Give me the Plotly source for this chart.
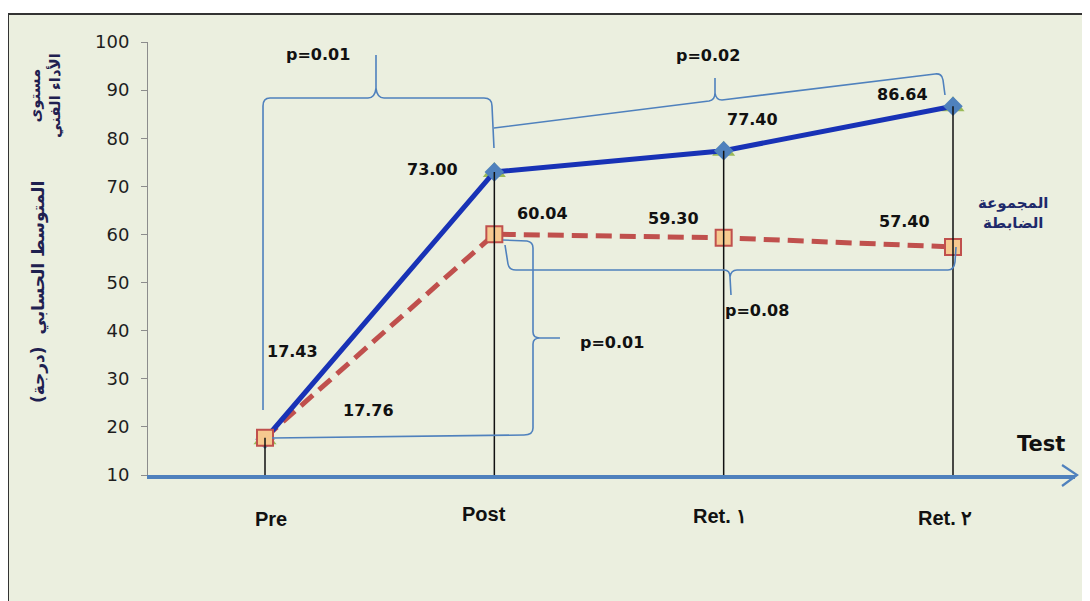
import plotly.graph_objects as go

# ---------------- data ----------------
categories = ["Pre", "Post", "Ret. ١", "Ret. ٢"]
experimental = [17.43, 73.00, 77.40, 86.64]
control = [17.76, 60.04, 59.30, 57.40]
y_ticks = [10, 20, 30, 40, 50, 60, 70, 80, 90, 100]
p_labels = ["p=0.01", "p=0.02", "p=0.08", "p=0.01"]
y_title_top = "مستوى<br>الأداء الفني"
y_title_main = "\u200fالمتوسط الحسابي  (درجة)\u200f"
control_name = "المجموعة<br>الضابطة"
x_title = "Test"

# ---------------- geometry helpers (screen pixels) ----------------
SCREEN_W, SCREEN_H = 1090, 601
OFF = 8  # page body margin
L, R, T, B = 148, 1075, 42, 475
XMIN, XMAX = -0.5102, 3.532
YMIN, YMAX = 10, 100


def dx(px):
    return XMIN + (px - L) / (R - L) * (XMAX - XMIN)


def dy(py):
    return YMIN + (B - py) / (B - T) * (YMAX - YMIN)


def px_(px):
    return (px - L) / (R - L)


def py_(py):
    return (B - py) / (B - T)


def path(cmds, conv_x=dx, conv_y=dy):
    out = []
    for c in cmds:
        op, nums = c[0], c[1:]
        pts = []
        for i in range(0, len(nums), 2):
            pts.append(f"{conv_x(nums[i]):.4f},{conv_y(nums[i + 1]):.4f}")
        out.append(op + " " + " ".join(pts))
    return " ".join(out)


BRACE = "#4F81BD"
fig = go.Figure()

xs = list(range(len(categories)))

# green triangles behind diamonds
fig.add_trace(go.Scatter(x=xs, y=experimental, mode="markers",
                         marker=dict(symbol="triangle-up", size=20, color="#9BBB59"),
                         showlegend=False, hoverinfo="skip", cliponaxis=False))
# control (dashed red)
fig.add_trace(go.Scatter(x=xs, y=control, mode="lines",
                         line=dict(color="#C0504D", width=5, dash="16px,8px"),
                         showlegend=False, cliponaxis=False))
# experimental (blue)
fig.add_trace(go.Scatter(x=xs, y=experimental, mode="lines+markers",
                         line=dict(color="#1832B6", width=5),
                         marker=dict(symbol="diamond", size=15, color="#4F81BD"),
                         showlegend=False, cliponaxis=False))
fig.add_trace(go.Scatter(x=xs, y=control, mode="markers",
                         marker=dict(symbol="square", size=16, color="#F6C98F",
                                     line=dict(color="#C0504D", width=2)),
                         showlegend=False, cliponaxis=False))

# drop lines
dl_x, dl_y = [], []
for i in xs:
    dl_x += [i, i, None]
    dl_y += [YMIN, max(experimental[i], control[i]), None]
fig.add_trace(go.Scatter(x=dl_x, y=dl_y, mode="lines",
                         line=dict(color="#111111", width=1.5),
                         showlegend=False, hoverinfo="skip", cliponaxis=False))

shapes = []
# background panel
shapes.append(dict(type="rect", xref="paper", yref="paper",
                   x0=px_(8), x1=px_(1110), y0=py_(620), y1=py_(14),
                   fillcolor="#EBEFDF", line=dict(color="#333333", width=2),
                   layer="below"))

brace_paths = [
    [("M", 263, 410), ("L", 263, 106), ("Q", 263, 98, 270, 98), ("L", 368, 98),
     ("Q", 375, 98, 376, 88), ("L", 376, 55), ("M", 376, 88),
     ("Q", 377, 98, 384, 98), ("L", 484, 98), ("Q", 492, 98, 492, 106),
     ("L", 494, 148)],
    [("M", 494, 128), ("L", 709, 101), ("Q", 715, 100, 715, 93), ("L", 715, 78),
     ("M", 715, 93), ("Q", 716, 100, 722, 100), ("L", 935, 74),
     ("Q", 942, 73, 943, 80), ("L", 945, 95)],
    [("M", 503, 240), ("L", 527, 241), ("Q", 533, 242, 533, 248),
     ("L", 533, 332), ("Q", 533, 338, 540, 338), ("L", 560, 338),
     ("M", 540, 338), ("Q", 533, 338, 533, 344), ("L", 533, 428),
     ("Q", 533, 435, 524, 435), ("L", 272, 438)],
    [("M", 505, 245), ("L", 508, 264), ("Q", 509, 270, 516, 270),
     ("L", 724, 270), ("Q", 730, 270, 730, 277), ("L", 731, 295),
     ("M", 730, 277), ("Q", 731, 270, 737, 270), ("L", 948, 270),
     ("Q", 954, 270, 955, 262), ("L", 956, 247)],
]
for bp in brace_paths:
    shapes.append(dict(type="path", xref="x", yref="y", path=path(bp),
                       line=dict(color=BRACE, width=1.6)))

# arrow head on x axis (paper coords so it is not clipped)
shapes.append(dict(type="path", xref="paper", yref="paper",
                   path=path([("M", 1062, 465), ("L", 1077, 475), ("L", 1062, 486)],
                             px_, py_),
                   line=dict(color="#4F81BD", width=2.2)))

annotations = []
lab_font = dict(family="DejaVu Sans", size=16, color="#111111")
exp_off = [(27, 88), (-62, 2), (29, 31), (-51, 12)]
ctl_off = [(103, 27), (48, 21), (-50, 19), (-49, 25)]
for i in xs:
    annotations.append(dict(x=i, y=experimental[i], xref="x", yref="y",
                            text=f"<b>{experimental[i]:.2f}</b>", showarrow=False,
                            xshift=exp_off[i][0], yshift=exp_off[i][1],
                            xanchor="center", yanchor="middle", font=lab_font))
    annotations.append(dict(x=i, y=control[i], xref="x", yref="y",
                            text=f"<b>{control[i]:.2f}</b>", showarrow=False,
                            xshift=ctl_off[i][0], yshift=ctl_off[i][1],
                            xanchor="center", yanchor="middle", font=lab_font))

# x category labels
cat_off = [(6, -44), (-10, -39), (-4, -41), (-8, -43)]
for i, c in enumerate(categories):
    annotations.append(dict(x=i, y=YMIN, xref="x", yref="y", text=f"<b>{c}</b>",
                            showarrow=False, xshift=cat_off[i][0], yshift=cat_off[i][1],
                            xanchor="center", yanchor="middle",
                            font=dict(family="Liberation Sans", size=20,
                                      color="#111111")))

# p-values
p_pos = [(318, 54), (708, 55), (757, 310), (612, 342)]
for t, (ppx, ppy) in zip(p_labels, p_pos):
    annotations.append(dict(x=dx(ppx), y=dy(ppy), xref="x", yref="y",
                            text=f"<b>{t}</b>", showarrow=False,
                            xanchor="center", yanchor="middle", font=lab_font))

# axis title "Test"
annotations.append(dict(x=px_(1041), y=py_(444), xref="paper", yref="paper",
                        text=f"<b>{x_title}</b>", showarrow=False,
                        xanchor="center", yanchor="middle",
                        font=dict(family="DejaVu Sans", size=21, color="#111111")))

# Arabic y titles
annotations.append(dict(x=px_(45), y=py_(96), xref="paper", yref="paper",
                        text=f"<b>{y_title_top}</b>", showarrow=False, textangle=-90,
                        xanchor="center", yanchor="middle",
                        font=dict(family="DejaVu Sans", size=15, color="#1F2050")))
annotations.append(dict(x=px_(38), y=py_(292), xref="paper", yref="paper",
                        text=f"<b>{y_title_main}</b>", showarrow=False, textangle=-90,
                        xanchor="center", yanchor="middle",
                        font=dict(family="DejaVu Sans", size=17, color="#1F2050")))
# control-group name
annotations.append(dict(x=px_(1013), y=py_(213), xref="paper", yref="paper",
                        text=f"<b>{control_name}</b>", showarrow=False,
                        xanchor="center", yanchor="middle",
                        font=dict(family="DejaVu Sans", size=15, color="#1F2A6B")))

fig.update_layout(
    width=SCREEN_W - OFF, height=SCREEN_H - OFF,
    margin=dict(l=L - OFF, r=SCREEN_W - R, t=T - OFF, b=SCREEN_H - B, pad=0),
    paper_bgcolor="white", plot_bgcolor="rgba(0,0,0,0)",
    showlegend=False,
    shapes=shapes, annotations=annotations,
    xaxis=dict(range=[XMIN, XMAX], showgrid=False, zeroline=False,
               showticklabels=False, ticks="", showline=True,
               linecolor="#4F81BD", linewidth=3.5, fixedrange=True),
    yaxis=dict(range=[YMIN, YMAX], tickvals=y_ticks, showgrid=False, zeroline=False,
               showline=True, linecolor="#8C8C8C", linewidth=1,
               ticks="outside", ticklen=6, tickcolor="#8C8C8C",
               ticklabelstandoff=8,
               tickfont=dict(family="DejaVu Sans", size=18, color="#1E1E1E"),
               fixedrange=True),
)

fig.write_html("out.html")
